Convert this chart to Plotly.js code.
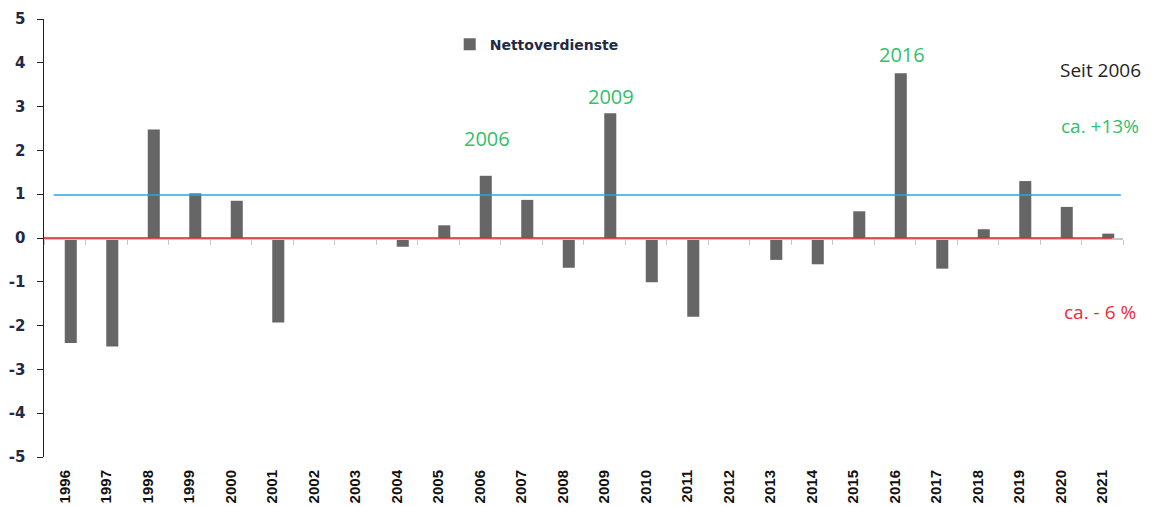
<!DOCTYPE html>
<html>
<head>
<meta charset="utf-8">
<script src="https://cdn.plot.ly/plotly-3.0.1.min.js"></script>
<style>html,body{margin:0;padding:0;background:#fff;}#chart{width:1157px;height:507px;}</style>
</head>
<body>
<div id="chart"></div>
<script>
const years = ["1996","1997","1998","1999","2000","2001","2002","2003","2004","2005","2006","2007","2008","2009","2010","2011","2012","2013","2014","2015","2016","2017","2018","2019","2020","2021"];
const netto = [-2.4,-2.48,2.48,1.02,0.85,-1.93,0,0,-0.2,0.29,1.42,0.87,-0.68,2.85,-1.01,-1.8,0,-0.5,-0.6,0.61,3.76,-0.7,0.2,1.3,0.71,0.1];
const seriesName = "Nettoverdienste";
const avgLevel = 0.98;
const yTicks = [-5,-4,-3,-2,-1,0,1,2,3,4,5];
const yTickText = ["-5","-4","-3","-2","-1","0","1","2","3","4","5"];
const peakLabels = [["2006", 2.28], ["2009", 3.22], ["2016", 4.18]];
const sideNotes = [["Seit 2006", 3.84, "#222222"], ["ca. +13%", 2.56, "#33c06a"], ["ca. - 6 %", -1.69, "#f0283a"]];

const traces = [
  {type:'bar', x:years, y:netto, name:seriesName, marker:{color:'#666666'},
   width:0.29, offset:0, xaxis:'x', yaxis:'y', showlegend:true, hoverinfo:'x+y'},
  {type:'bar', x:years, y:years.map(()=>null), xaxis:'x2', yaxis:'y', showlegend:false, hoverinfo:'skip'}
];

const annotations = [];
peakLabels.forEach(([yr, yv]) => annotations.push({
  x: years.indexOf(yr), y: yv, xref:'x', yref:'y', text: yr, showarrow:false, xshift:7,
  xanchor:'center', yanchor:'middle',
  font:{family:'Open Sans, Noto Sans, sans-serif', size:20, color:'#33c06a'}
}));
sideNotes.forEach(([t, yv, c]) => annotations.push({
  x: 0.979, y: yv, xref:'paper', yref:'y', text: t, showarrow:false,
  xanchor:'center', yanchor:'middle',
  font:{family:'Open Sans, Noto Sans, sans-serif', size:19, color:c}
}));

const layout = {
  width:1157, height:507,
  margin:{l:44, r:34, t:19, b:50},
  paper_bgcolor:'#ffffff', plot_bgcolor:'#ffffff',
  showlegend:true,
  legend:{x:0.376, y:0.978, xanchor:'left', yanchor:'top', bgcolor:'rgba(0,0,0,0)',
    font:{family:'DejaVu Sans, sans-serif', size:14, color:'#1f2a44', weight:'bold'}},
  xaxis:{type:'category', range:[-0.5,25.5], anchor:'free', position:0.5,
    showline:true, linecolor:'#c8c8c8', linewidth:1.5, ticks:'outside', tickson:'boundaries',
    ticklen:5, tickcolor:'#c8c8c8', showticklabels:false, showgrid:false, zeroline:false, fixedrange:true},
  xaxis2:{type:'category', range:[-0.5,25.5], overlaying:'x', anchor:'y', side:'bottom',
    showline:false, ticks:'outside', ticklen:6, tickcolor:'rgba(0,0,0,0)', tickangle:-90,
    tickfont:{family:'Liberation Sans, Arial, sans-serif', size:15, color:'#111111', weight:'bold'},
    showgrid:false, zeroline:false, automargin:false},
  yaxis:{range:[-5,5], tickvals:yTicks, ticktext:yTickText, showline:true, linecolor:'#222222', linewidth:1.5,
    ticks:'outside', ticklen:6, tickcolor:'#222222', ticklabelstandoff:8,
    tickfont:{family:'DejaVu Sans, sans-serif', size:15, color:'#1f2a44', weight:'bold'},
    showgrid:false, zeroline:false, automargin:false},
  shapes:[
    {type:'line', xref:'paper', yref:'y', x0:0.009, x1:0.998, y0:avgLevel, y1:avgLevel,
     line:{color:'#2aa6df', width:1.5}},
    {type:'line', xref:'paper', yref:'y', x0:0, x1:0.99, y0:0, y1:0,
     line:{color:'#e8202a', width:1.5}}
  ],
  annotations: annotations,
  bargap:0.2
};

Plotly.newPlot('chart', traces, layout, {displayModeBar:false, staticPlot:true});
</script>
</body>
</html>
